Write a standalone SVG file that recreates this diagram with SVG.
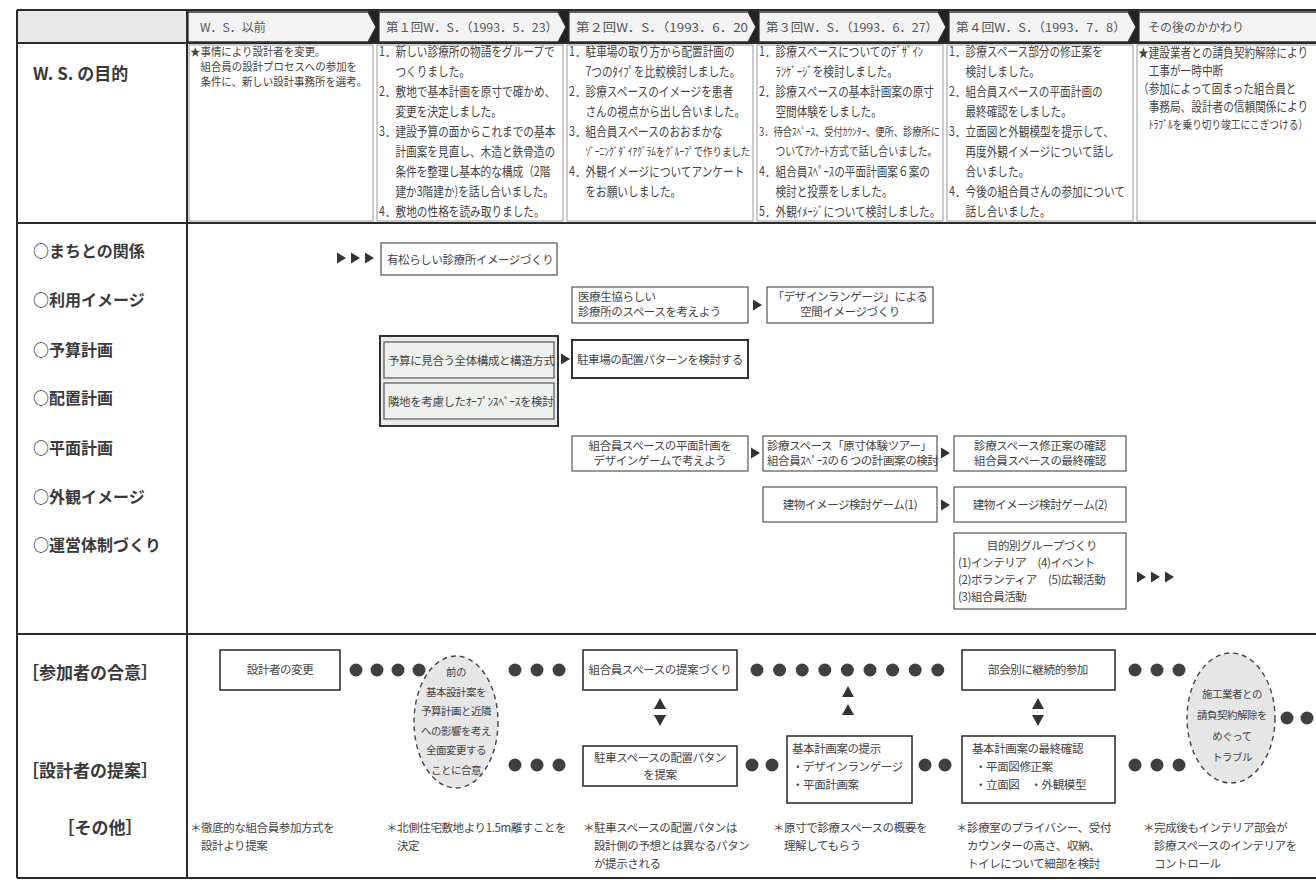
<svg xmlns="http://www.w3.org/2000/svg" width="1316" height="880" viewBox="0 0 1316 880">
<defs>
<style>
text{font-family:"Noto Sans CJK JP","Noto Sans",sans-serif;fill:#444}
.fr{fill:none;stroke:#2b2b2b;stroke-width:2}
.hb{fill:#e9e9e9}
.hd{fill:#f3f3f3;stroke:#333;stroke-width:1.3}
.wd{fill:#222}
.ht{font-size:12px;fill:#555}
.cl{fill:none;stroke:#999;stroke-width:1}
.t1{font-size:13px}
.t0{font-size:11px}
.lb{font-size:16px;font-weight:700;fill:#3a3a3a}
.lb2{font-size:17px;font-weight:700;fill:#3a3a3a}
.mb{fill:#fff;stroke:#555;stroke-width:1.2}
.mk{fill:#fff;stroke:#333;stroke-width:2}
.gb{fill:#e8ebe9;stroke:#333;stroke-width:2}
.gi{fill:#eef0ee;stroke:#555;stroke-width:1.2}
.bt{font-size:11.5px;letter-spacing:-0.4px}
.et{font-size:10.5px;letter-spacing:-0.5px}
.bb{fill:#fff;stroke:#333;stroke-width:1.6}
.el{fill:#e6e6e6;stroke:#444;stroke-width:1.4;stroke-dasharray:5 4}
.dt{fill:#404040}
.nt{font-size:11.5px;letter-spacing:-0.4px}
.c{text-anchor:middle}
</style>
<path id="tr" d="M0 -5.5 L9 0 L0 5.5Z"/>
<path id="up" d="M-6 5 L0 -6 L6 5Z"/>
<path id="dn" d="M-6 -5 L0 6 L6 -5Z"/>
<circle id="d" r="6.5"/>
</defs>
<rect width="1316" height="880" fill="#fff"/>

<g id="header">
<rect class="hb" x="17" y="10" width="1299" height="33"/>
<polygon class="hd" points="188,12 368,12 376,27 368,42 188,42"/>
<polygon class="wd" points="368,11 379,11 379,43 368,43 376,27"/>
<polygon class="hd" points="379,12 558,12 566,27 558,42 379,42"/>
<polygon class="wd" points="558,11 569,11 569,43 558,43 566,27"/>
<polygon class="hd" points="569,12 748,12 756,27 748,42 569,42"/>
<polygon class="wd" points="748,11 759,11 759,43 748,43 756,27"/>
<polygon class="hd" points="759,12 938,12 946,27 938,42 759,42"/>
<polygon class="wd" points="938,11 949,11 949,43 938,43 946,27"/>
<polygon class="hd" points="949,12 1128,12 1136,27 1128,42 949,42"/>
<polygon class="wd" points="1128,11 1139,11 1139,43 1128,43 1136,27"/>
<polygon class="hd" points="1139,12 1318,12 1318,42 1139,42"/>
<text class="ht" x="200" y="32">W．S．以前</text>
<text class="ht" x="386" y="32" textLength="172" lengthAdjust="spacingAndGlyphs">第１回W．S．（1993．5．23）</text>
<text class="ht" x="576" y="32" textLength="172" lengthAdjust="spacingAndGlyphs">第２回W．S．（1993．6．20</text>
<text class="ht" x="766" y="32" textLength="172" lengthAdjust="spacingAndGlyphs">第３回W．S．（1993．6．27）</text>
<text class="ht" x="956" y="32" textLength="170" lengthAdjust="spacingAndGlyphs">第４回W．S．（1993．7．8）</text>
<text class="ht" x="1148" y="32">その後のかかわり</text>
</g>

<g id="frame">
<line class="fr" x1="17" y1="10" x2="1316" y2="10"/>
<line class="fr" x1="17" y1="43" x2="1316" y2="43"/>
<line class="fr" x1="17" y1="223" x2="1316" y2="223"/>
<line class="fr" x1="17" y1="634" x2="1316" y2="634"/>
<line class="fr" x1="17" y1="878" x2="1316" y2="878"/>
<line class="fr" x1="17" y1="10" x2="17" y2="878"/>
<line class="fr" x1="187" y1="10" x2="187" y2="878"/>
<rect class="cl" x="189" y="45" width="184" height="176"/>
<rect class="cl" x="377" y="45" width="186" height="176"/>
<rect class="cl" x="567" y="45" width="186" height="176"/>
<rect class="cl" x="757" y="45" width="186" height="176"/>
<rect class="cl" x="947" y="45" width="186" height="176"/>
<rect class="cl" x="1137" y="45" width="190" height="176"/>
</g>

<g id="row-purpose">
<text class="lb2" x="33" y="80">W. S. の目的</text>
<g transform="translate(190 0) scale(0.95 1)" class="t0">
<text x="0" y="56">★事情により設計者を変更。</text>
<text x="11" y="71">組合員の設計プロセスへの参加を</text>
<text x="11" y="86">条件に、新しい設計事務所を選考。</text>
</g>
<g transform="translate(379 0) scale(0.82 1)" class="t1">
<text x="0" y="56">1．新しい診療所の物語をグループで</text>
<text x="20" y="76">つくりました。</text>
<text x="0" y="96">2．敷地で基本計画を原寸で確かめ、</text>
<text x="20" y="116">変更を決定しました。</text>
<text x="0" y="136">3．建設予算の面からこれまでの基本</text>
<text x="20" y="156">計画案を見直し、木造と鉄骨造の</text>
<text x="20" y="176">条件を整理し基本的な構成（2階</text>
<text x="20" y="196">建か3階建か)を話し合いました。</text>
<text x="0" y="216">4．敷地の性格を読み取りました。</text>
</g>
<g transform="translate(569 0) scale(0.82 1)" class="t1">
<text x="0" y="56">1．駐車場の取り方から配置計画の</text>
<text x="20" y="76">7つのﾀｲﾌﾟを比較検討しました。</text>
<text x="0" y="96">2．診療スペースのイメージを患者</text>
<text x="20" y="116">さんの視点から出し合いました。</text>
<text x="0" y="136">3．組合員スペースのおおまかな</text>
<text x="20" y="156" font-size="11.5">ｿﾞｰﾆﾝｸﾞﾀﾞｲｱｸﾞﾗﾑをｸﾞﾙｰﾌﾟで作りました</text>
<text x="0" y="176">4．外観イメージについてアンケート</text>
<text x="20" y="196">をお願いしました。</text>
</g>
<g transform="translate(759 0) scale(0.82 1)" class="t1">
<text x="0" y="56">1．診療スペースについてのﾃﾞｻﾞｲﾝ</text>
<text x="20" y="76">ﾗﾝｹﾞｰｼﾞを検討しました。</text>
<text x="0" y="96">2．診療スペースの基本計画案の原寸</text>
<text x="20" y="116">空間体験をしました。</text>
<text x="0" y="136" font-size="11.3">3．待合ｽﾍﾟｰｽ、受付ｶｳﾝﾀｰ、便所、診療所に</text>
<text x="20" y="156" font-size="12">ついてｱﾝｹｰﾄ方式で話し合いました。</text>
<text x="0" y="176">4．組合員ｽﾍﾟｰｽの平面計画案６案の</text>
<text x="20" y="196">検討と投票をしました。</text>
<text x="0" y="216">5．外観ｲﾒｰｼﾞについて検討しました。</text>
</g>
<g transform="translate(949 0) scale(0.82 1)" class="t1">
<text x="0" y="56">1．診療スペース部分の修正案を</text>
<text x="20" y="76">検討しました。</text>
<text x="0" y="96">2．組合員スペースの平面計画の</text>
<text x="20" y="116">最終確認をしました。</text>
<text x="0" y="136">3．立面図と外観模型を提示して、</text>
<text x="20" y="156">再度外観イメージについて話し</text>
<text x="20" y="176">合いました。</text>
<text x="0" y="196">4．今後の組合員さんの参加について</text>
<text x="20" y="216">話し合いました。</text>
</g>
<g transform="translate(1138 0) scale(0.82 1)" class="t1">
<text x="0" y="57">★建設業者との請負契約解除により</text>
<text x="13" y="75">工事が一時中断</text>
<text x="0" y="93">（参加によって固まった組合員と</text>
<text x="13" y="111">事務局、設計者の信頼関係により</text>
<text x="13" y="129" font-size="11.8">ﾄﾗﾌﾞﾙを乗り切り竣工にこぎつける）</text>
</g>
</g>

<g id="row-labels">
<text class="lb" x="33" y="257">○まちとの関係</text>
<text class="lb" x="33" y="306">○利用イメージ</text>
<text class="lb" x="33" y="356">○予算計画</text>
<text class="lb" x="33" y="404">○配置計画</text>
<text class="lb" x="33" y="454">○平面計画</text>
<text class="lb" x="33" y="503">○外観イメージ</text>
<text class="lb" x="33" y="551">○運営体制づくり</text>
<text class="lb2" x="22" y="679">［参加者の合意］</text>
<text class="lb2" x="22" y="777">［設計者の提案］</text>
<text class="lb2 c" x="100" y="834">［その他］</text>
</g>

<g id="node-arimatsu">
<rect class="mb" x="381" y="243" width="176" height="32"/>
<text class="bt" x="387" y="264">有松らしい診療所イメージづくり</text>
</g>
<g id="node-iryo">
<rect class="mb" x="572" y="287" width="176" height="36"/>
<text class="bt" x="578" y="301">医療生協らしい</text>
<text class="bt" x="578" y="316">診療所のスペースを考えよう</text>
</g>
<g id="node-design-lang">
<rect class="mb" x="767" y="287" width="166" height="36"/>
<text class="bt c" x="850" y="301">「デザインランゲージ」による</text>
<text class="bt c" x="850" y="316">空間イメージづくり</text>
</g>
<g id="node-budget-group">
<rect class="gb" x="380" y="336" width="178" height="90"/>
<rect class="gi" x="384" y="342" width="170" height="36"/>
<text class="bt" x="388" y="365">予算に見合う全体構成と構造方式</text>
<rect class="gi" x="384" y="383" width="170" height="36"/>
<text class="bt" x="388" y="406">隣地を考慮したｵｰﾌﾟﾝｽﾍﾟｰｽを検討</text>
</g>
<g id="node-parking">
<rect class="mk" x="572" y="340" width="176" height="38"/>
<text class="bt" x="577" y="364">駐車場の配置パターンを検討する</text>
</g>
<g id="node-plan1">
<rect class="mb" x="572" y="436" width="176" height="35"/>
<text class="bt c" x="660" y="450">組合員スペースの平面計画を</text>
<text class="bt c" x="660" y="465">デザインゲームで考えよう</text>
</g>
<g id="node-plan2">
<rect class="mb" x="763" y="436" width="174" height="35"/>
<text class="bt" x="767" y="450">診療スペース「原寸体験ツアー」</text>
<text class="bt" x="767" y="465">組合員ｽﾍﾟｰｽの６つの計画案の検討</text>
</g>
<g id="node-plan3">
<rect class="mb" x="954" y="436" width="172" height="35"/>
<text class="bt c" x="1040" y="450">診療スペース修正案の確認</text>
<text class="bt c" x="1040" y="465">組合員スペースの最終確認</text>
</g>
<g id="node-game1">
<rect class="mb" x="763" y="487" width="174" height="35"/>
<text class="bt c" x="850" y="509">建物イメージ検討ゲーム(1)</text>
</g>
<g id="node-game2">
<rect class="mb" x="954" y="487" width="172" height="35"/>
<text class="bt c" x="1040" y="509">建物イメージ検討ゲーム(2)</text>
</g>
<g id="node-groups">
<rect class="mb" x="954" y="533" width="172" height="76"/>
<text class="bt c" x="1042" y="550">目的別グループづくり</text>
<text class="bt" x="958" y="567">(1)インテリア　(4)イベント</text>
<text class="bt" x="958" y="584">(2)ボランティア　(5)広報活動</text>
<text class="bt" x="958" y="601">(3)組合員活動</text>
</g>

<g id="node-designer-change">
<rect class="bb" x="220" y="650" width="120" height="40"/>
<text class="bt c" x="280" y="674">設計者の変更</text>
</g>
<g id="node-agree1">
<ellipse class="el" cx="456" cy="722" rx="42" ry="66"/>
<text class="et c" x="456" y="676">前の</text>
<text class="et c" x="456" y="695.5">基本設計案を</text>
<text class="et c" x="456" y="715">予算計画と近隣</text>
<text class="et c" x="456" y="734.5">への影響を考え</text>
<text class="et c" x="456" y="754">全面変更する</text>
<text class="et c" x="456" y="773.5">ことに合意</text>
</g>
<g id="node-member-proposal">
<rect class="bb" x="583" y="650" width="154" height="40"/>
<text class="bt c" x="660" y="674">組合員スペースの提案づくり</text>
</g>
<g id="node-parking-proposal">
<rect class="bb" x="583" y="746" width="154" height="40"/>
<text class="bt c" x="660" y="762">駐車スペースの配置パタン</text>
<text class="bt c" x="660" y="779">を提案</text>
</g>
<g id="node-basic-plan">
<rect class="bb" x="787" y="736" width="125" height="67"/>
<text class="bt" x="792" y="753">基本計画案の提示</text>
<text class="bt" x="792" y="771">・デザインランゲージ</text>
<text class="bt" x="792" y="789">・平面計画案</text>
</g>
<g id="node-subcommittee">
<rect class="bb" x="962" y="650" width="153" height="40"/>
<text class="bt c" x="1038" y="674">部会別に継続的参加</text>
</g>
<g id="node-final-check">
<rect class="bb" x="962" y="736" width="153" height="67"/>
<text class="bt" x="972" y="753">基本計画案の最終確認</text>
<text class="bt" x="975" y="771">・平面図修正案</text>
<text class="bt" x="975" y="789">・立面図　・外観模型</text>
</g>
<g id="node-trouble">
<ellipse class="el" cx="1231" cy="718" rx="44" ry="65"/>
<text class="et c" x="1232" y="698">施工業者との</text>
<text class="et c" x="1232" y="719">請負契約解除を</text>
<text class="et c" x="1232" y="740">めぐって</text>
<text class="et c" x="1232" y="761">トラブル</text>
</g>

<g id="notes">
<text class="nt" x="190" y="832">＊徹底的な組合員参加方式を</text>
<text class="nt" x="201" y="850">設計より提案</text>
<text class="nt" x="386" y="832">＊北側住宅敷地より1.5m離すことを</text>
<text class="nt" x="397" y="850">決定</text>
<text class="nt" x="583" y="832">＊駐車スペースの配置パタンは</text>
<text class="nt" x="594" y="850">設計側の予想とは異なるパタン</text>
<text class="nt" x="594" y="868">が提示される</text>
<text class="nt" x="773" y="832">＊原寸で診療スペースの概要を</text>
<text class="nt" x="784" y="850">理解してもらう</text>
<text class="nt" x="956" y="832">＊診療室のプライバシー、受付</text>
<text class="nt" x="967" y="850">カウンターの高さ、収納、</text>
<text class="nt" x="967" y="868">トイレについて細部を検討</text>
<text class="nt" x="1143" y="832">＊完成後もインテリア部会が</text>
<text class="nt" x="1154" y="850">診療スペースのインテリアを</text>
<text class="nt" x="1154" y="868">コントロール</text>
</g>

<g id="connectors" fill="#333">
<use href="#tr" x="337" y="258"/><use href="#tr" x="351" y="258"/><use href="#tr" x="365" y="258"/>
<use href="#tr" x="753" y="305"/>
<use href="#tr" x="561" y="359"/>
<use href="#tr" x="751" y="453"/>
<use href="#tr" x="941" y="453"/>
<use href="#tr" x="941" y="505"/>
<use href="#tr" x="1137" y="577"/><use href="#tr" x="1151" y="577"/><use href="#tr" x="1165" y="577"/>
<g class="dt">
<use href="#d" x="356" y="670"/><use href="#d" x="377" y="670"/><use href="#d" x="398" y="670"/><use href="#d" x="419" y="670"/>
<use href="#d" x="515" y="670"/><use href="#d" x="537" y="670"/><use href="#d" x="559" y="670"/>
<use href="#d" x="757" y="670"/><use href="#d" x="779.6" y="670"/><use href="#d" x="802.2" y="670"/><use href="#d" x="824.8" y="670"/><use href="#d" x="847.4" y="670"/><use href="#d" x="870" y="670"/><use href="#d" x="892.6" y="670"/><use href="#d" x="915.2" y="670"/><use href="#d" x="937.8" y="670"/>
<use href="#d" x="1135" y="670"/><use href="#d" x="1157" y="670"/><use href="#d" x="1179" y="670"/>
<use href="#d" x="515" y="765"/><use href="#d" x="537" y="765"/><use href="#d" x="559" y="765"/>
<use href="#d" x="752" y="765"/><use href="#d" x="772" y="765"/>
<use href="#d" x="925" y="765"/><use href="#d" x="945" y="765"/>
<use href="#d" x="1135" y="765"/><use href="#d" x="1157" y="765"/><use href="#d" x="1179" y="765"/>
<use href="#d" x="1287" y="718"/><use href="#d" x="1307" y="718"/>
</g>
<use href="#up" x="660" y="704"/><use href="#dn" x="660" y="720"/>
<use href="#up" x="848" y="692"/><use href="#up" x="848" y="710"/>
<use href="#up" x="1038" y="704"/><use href="#dn" x="1038" y="720"/>
</g>
</svg>
